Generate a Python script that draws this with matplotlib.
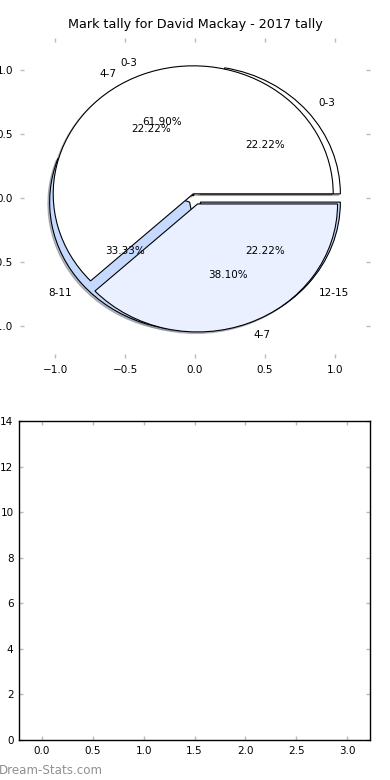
import matplotlib
matplotlib.use("Agg")
import matplotlib.pyplot as plt

# Data
title = "Mark tally for David Mackay - 2017 tally"
pie1_labels = ["0-3", "4-7"]
pie1_counts = [13, 8]
pie2_labels = ["0-3", "4-7", "8-11", "12-15"]
pie2_counts = [2, 2, 3, 2]
pie_ticks = [-1.0, -0.5, 0.0, 0.5, 1.0]
bar_xticks = [0.0, 0.5, 1.0, 1.5, 2.0, 2.5, 3.0]
bar_yticks = [0, 2, 4, 6, 8, 10, 12, 14]

plt.rcParams['font.family'] = ['DejaVu Sans']

W, H = 390, 780
fig = plt.figure(figsize=(W / 100, H / 100), dpi=100)

def px_axes(l, t, r, b):
    return fig.add_axes([l / W, 1 - b / H, (r - l) / W, (b - t) / H])

ax1 = px_axes(20, 38, 370, 358)

light = "#EAF0FF"
blue = "#C6D9FF"
wp = dict(edgecolor="black", linewidth=0.8)
shadow = dict(ox=-0.009, oy=-0.009, shade=0.45)

ax1.pie(pie2_counts, labels=pie2_labels, autopct="%.2f%%",
        colors=["white", "white", blue, blue],
        explode=[0.05, 0.02, 0.05, 0.05], shadow=shadow,
        wedgeprops=wp, textprops=dict(fontsize=7.5))
ax1.pie(pie1_counts, labels=pie1_labels, autopct="%.2f%%",
        colors=["white", light],
        explode=[0.035, 0.05], shadow=shadow,
        wedgeprops=wp, textprops=dict(fontsize=7.5))

ax1.set_aspect("auto")
ax1.set_frame_on(False)
ax1.set_xlim(-1.25, 1.25)
ax1.set_ylim(-1.25, 1.25)
ax1.set_xticks(pie_ticks)
ax1.set_yticks(pie_ticks)
ax1.tick_params(direction="in", length=3, width=1, color="#bbbbbb",
                top=True, right=True, labelsize=7.5, pad=5)
ax1.set_title(title, fontsize=9.2, pad=7)

ax2 = px_axes(19, 421, 370, 740)
ax2.set_xlim(-0.225, 3.225)
ax2.set_ylim(0, 14)
ax2.set_xticks(bar_xticks)
ax2.set_yticks(bar_yticks)
ax2.tick_params(direction="in", length=3, width=1, color="#bbbbbb",
                top=True, right=True, labelsize=7.5, pad=4)
for s in ax2.spines.values():
    s.set_linewidth(1.0)

fig.text(-0.002, 0.012, "Dream-Stats.com", color="#909090", fontsize=8.6,
         ha="left", va="center")

fig.savefig("out.png", dpi=100)
